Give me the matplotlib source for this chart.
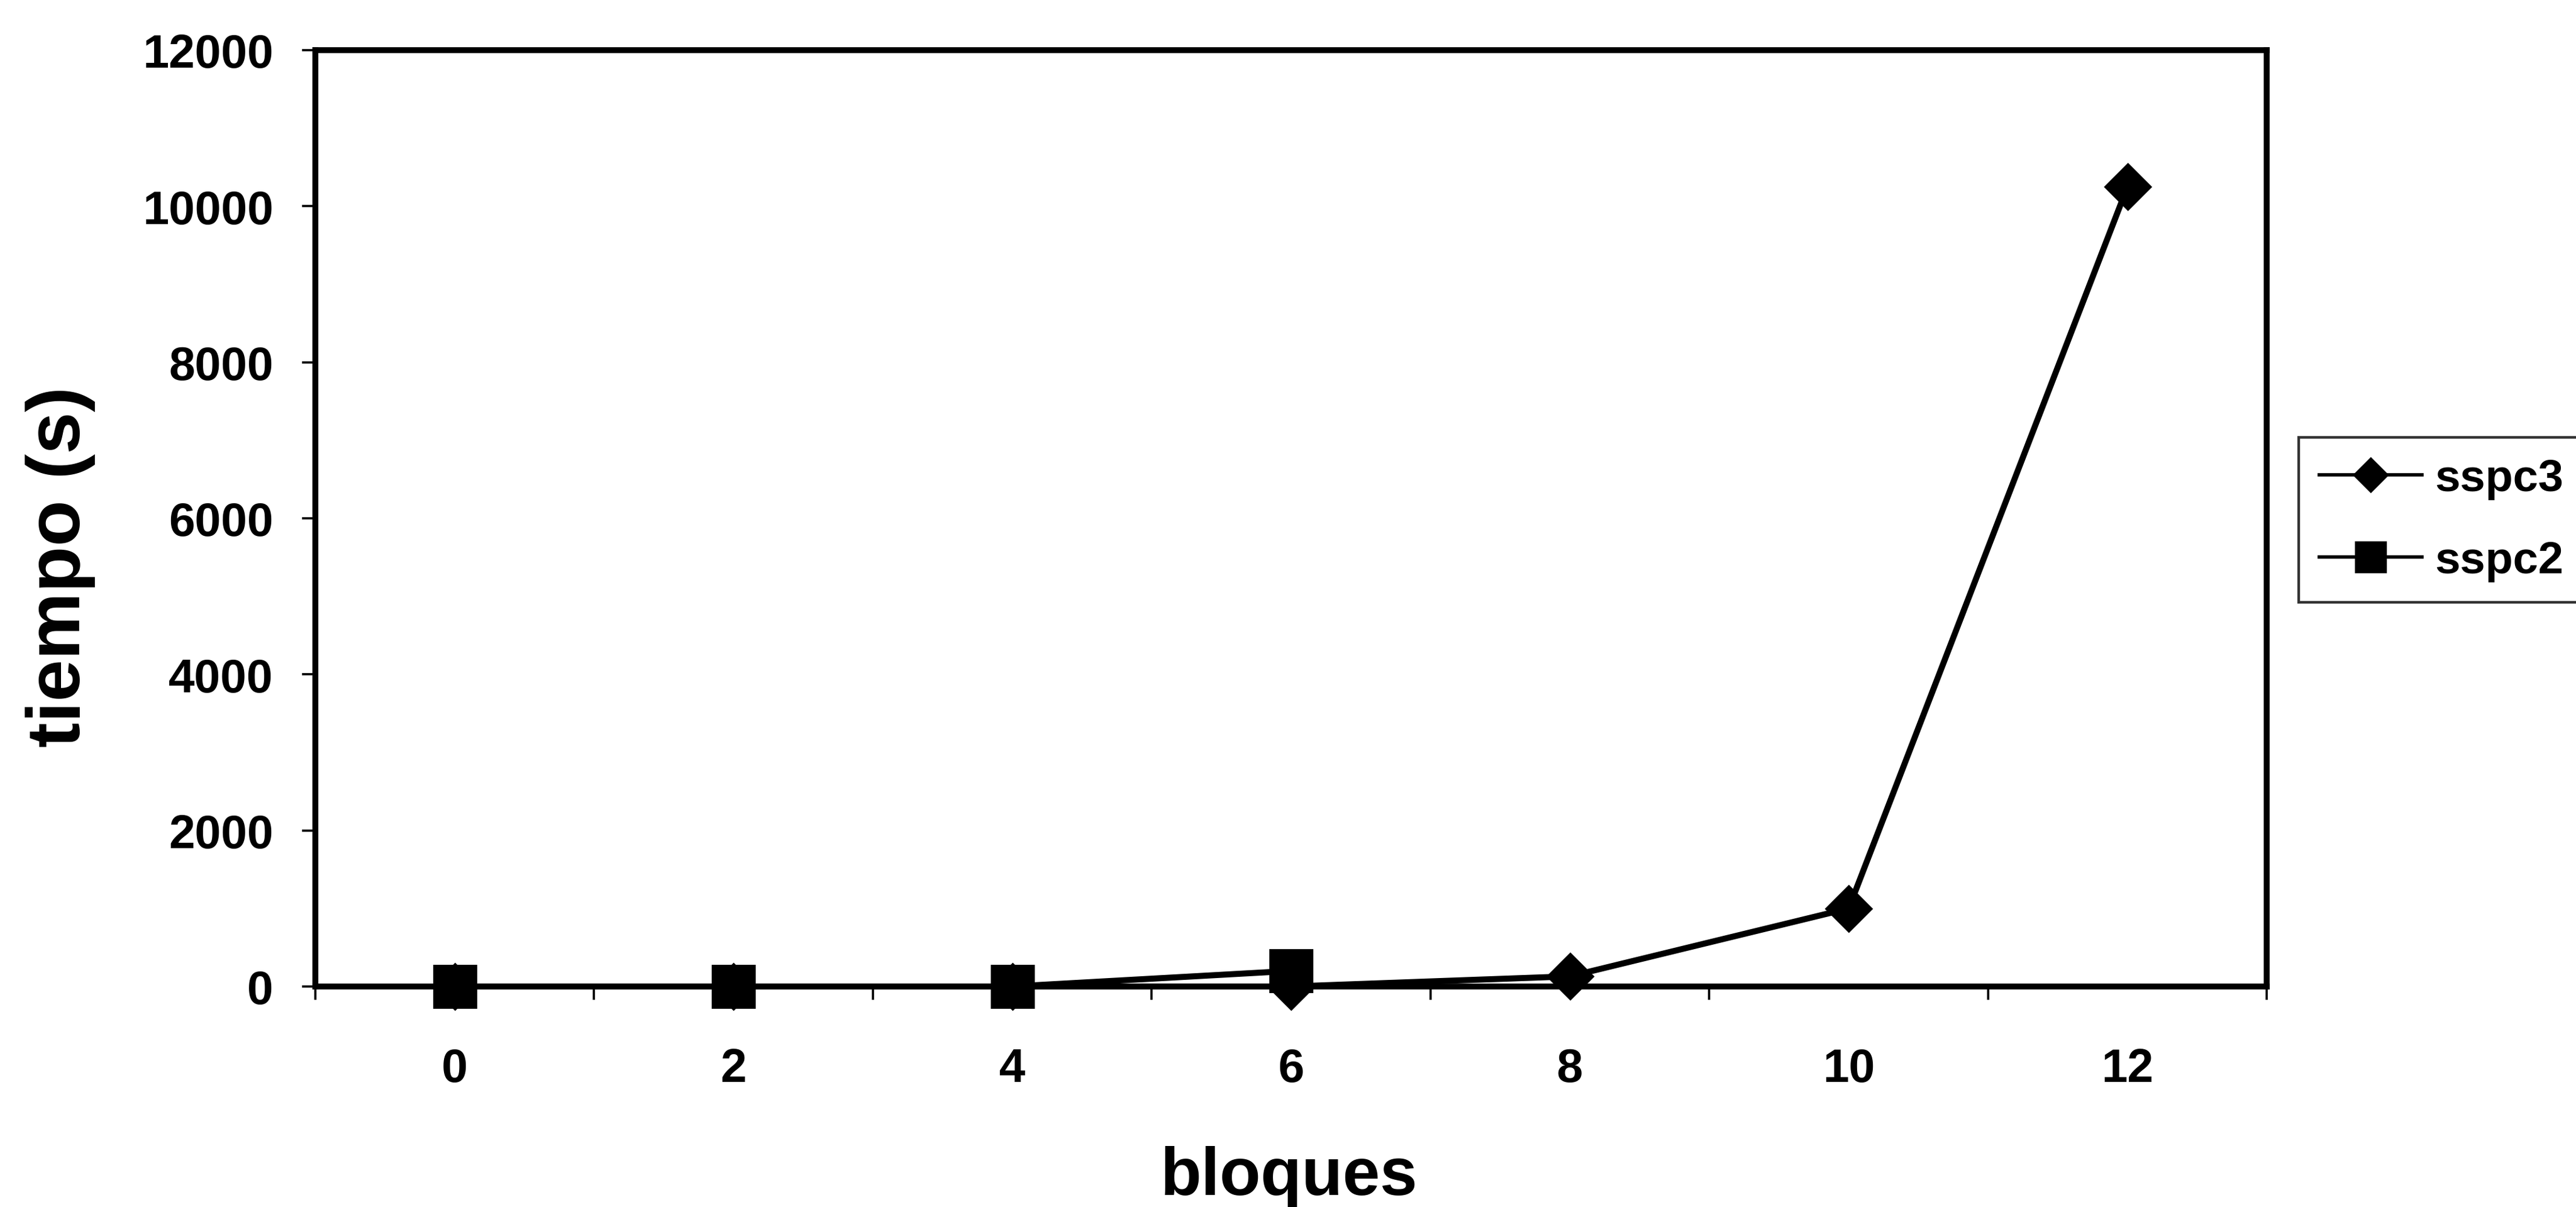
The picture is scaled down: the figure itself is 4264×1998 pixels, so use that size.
import matplotlib as mpl
mpl.use("Agg")
import matplotlib.pyplot as plt
import numpy as np
from matplotlib.ticker import FixedLocator


# data
bloques = ["0", "2", "4", "6", "8", "10", "12"]
sspc3 = [0, 0, 0, 0, 130, 1000, 10250]
sspc2 = [0, 0, 0, 200, np.nan, np.nan, np.nan]
yticks = [0, 2000, 4000, 6000, 8000, 10000, 12000]


def plot_graph():

	plt.rcParams["font.family"] = ["Liberation Sans", "DejaVu Sans"]
	plt.rcParams["font.weight"] = "bold"

	fig = plt.figure(figsize = (21.32, 9.995), dpi = 200)
	ax = fig.add_axes([0.1224, 0.1826, 0.7576, 0.7754])

	pos = np.arange(len(bloques))

	# sspc2 goes on top of sspc3, as in the original
	ax.plot(pos, sspc3, color = "black", linewidth = 3.6, marker = "D",
		markersize = 19.5, label = "sspc3", clip_on = False, zorder = 3)
	ax.plot(pos, sspc2, color = "black", linewidth = 3.6, marker = "s",
		markersize = 25, label = "sspc2", clip_on = False, zorder = 4)

	ax.set_xlim(-0.5, len(bloques) - 0.5)
	ax.set_ylim(0, 12000)

	ax.set_xticks(pos)
	ax.set_xticklabels(bloques)
	ax.xaxis.set_minor_locator(FixedLocator(np.arange(-0.5, len(bloques), 1.0)))
	ax.tick_params(axis = "x", which = "major", length = 0, pad = 36, labelsize = 28)
	ax.tick_params(axis = "x", which = "minor", length = 8, width = 1.3, direction = "out")

	ax.set_yticks(yticks)
	ax.set_yticklabels([str(v) for v in yticks])
	ax.tick_params(axis = "y", length = 8, width = 1.3, pad = 17, labelsize = 28)

	for side in ["left", "right", "top", "bottom"]:
		ax.spines[side].set_linewidth(3.5)
	#end_for

	ax.set_xlabel("bloques", fontsize = 40, fontweight = "bold")
	ax.xaxis.set_label_coords(0.499, -0.17)
	ax.set_ylabel("tiempo (s)", fontsize = 45, fontweight = "bold")
	ax.yaxis.set_label_coords(-0.1127, 0.449)

	leg = fig.legend(loc = "upper left", bbox_to_anchor = (0.8923, 0.6373),
		fontsize = 27, frameon = True, fancybox = False, markerscale = 0.72,
		handlelength = 2.27, handletextpad = 0.29, borderpad = 0.45,
		labelspacing = 0.9, borderaxespad = 0)
	leg.get_frame().set_edgecolor("black")
	leg.get_frame().set_linewidth(1.6)
	for line in leg.get_lines():
		line.set_linewidth(2)
	#end_for

	fig.savefig("out.png", dpi = 200)

	return

#end_def


def main():

	plot_graph()

	return

#end_def


main()
